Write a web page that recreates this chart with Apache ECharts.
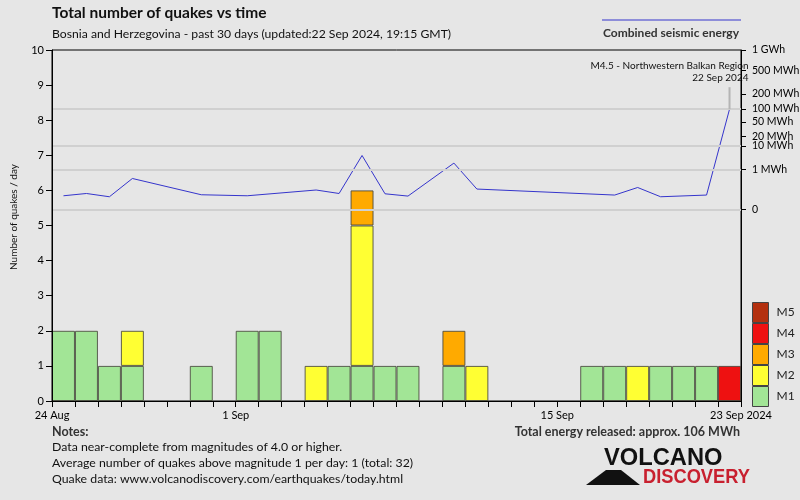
<!DOCTYPE html>
<html>
<head>
<meta charset="utf-8">
<script src="https://cdn.jsdelivr.net/npm/echarts@6/dist/echarts.min.js"></script>
<style>
html,body{margin:0;padding:0;background:#e6e6e6;}
#chart{width:800px;height:500px;}
</style>
</head>
<body>
<div id="chart"></div>
<script>
// ---- data ----
const days = ['24 Aug','25 Aug','26 Aug','27 Aug','28 Aug','29 Aug','30 Aug','31 Aug',
  '1 Sep','2 Sep','3 Sep','4 Sep','5 Sep','6 Sep','7 Sep','8 Sep','9 Sep','10 Sep','11 Sep',
  '12 Sep','13 Sep','14 Sep','15 Sep','16 Sep','17 Sep','18 Sep','19 Sep','20 Sep','21 Sep','22 Sep'];
const m1 = [2,2,1,1,0,0,1,0,2,2,0,0,1,1,1,1,0,1,0,0,0,0,0,1,1,0,1,1,1,0];
const m2 = [0,0,0,1,0,0,0,0,0,0,0,1,0,4,0,0,0,0,1,0,0,0,0,0,0,1,0,0,0,0];
const m3 = [0,0,0,0,0,0,0,0,0,0,0,0,0,1,0,0,0,1,0,0,0,0,0,0,0,0,0,0,0,0];
const m4 = [0,0,0,0,0,0,0,0,0,0,0,0,0,0,0,0,0,0,0,0,0,0,0,0,0,0,0,0,0,1];
const m5 = [0,0,0,0,0,0,0,0,0,0,0,0,0,0,0,0,0,0,0,0,0,0,0,0,0,0,0,0,0,0];
const magNames = ['M1','M2','M3','M4','M5'];
const magColors = ['#a2e596','#ffff33','#ffaa00','#ee1111','#b3300f'];

const energyDays = ['24 Aug','25 Aug','26 Aug','27 Aug','30 Aug','1 Sep','4 Sep','5 Sep','6 Sep',
  '7 Sep','8 Sep','10 Sep','11 Sep','17 Sep','18 Sep','19 Sep','21 Sep','22 Sep'];
const energyMWh = [0.0044,0.0096,0.0030,0.27,0.0063,0.0044,0.026,0.0096,4.4,
  0.0087,0.0039,2.05,0.033,0.0057,0.048,0.0030,0.0057,98];

const xTickDays = [0, 8, 22, 30];
const xTickLabels = ['24 Aug','1 Sep','15 Sep','23 Sep 2024'];
const energyTicks = [0,1,10,20,50,100,200,500,1000];
const energyTickLabels = ['0','1 MWh','10 MWh','20 MWh','50 MWh','100 MWh','200 MWh','500 MWh','1 GWh'];
const energyGrid = [0,1,10,100];
const biggestQuake = {day:'22 Sep', text:'M4.5 - Northwestern Balkan Region\n22 Sep 2024'};

// energy axis scale (fifth root)
const eScale = e => Math.pow(e, 0.2);
const eTickVals = energyTicks.map(eScale);
// day boundaries (one tick per day edge)
const dayEdges = days.map((d, i) => i).concat([days.length]);

const FONT = 'Lato';
const chart = echarts.init(document.getElementById('chart'), null, {renderer:'canvas'});

const magSeries = [m1,m2,m3,m4,m5].map((arr, k) => ({
  name: magNames[k],
  type: 'bar',
  stack: 'q',
  xAxisIndex: 0, yAxisIndex: 0,
  barCategoryGap: '0%',
  z: 3,
  itemStyle: {color: magColors[k], borderColor: 'rgba(70,70,60,0.85)', borderWidth: 1},
  emphasis: {disabled: true},
  data: arr.map(v => v > 0 ? v : '-')
}));

const energyData = energyDays.map((d, i) => [days.indexOf(d) + 0.5, eScale(energyMWh[i])]);
const bqIdx = energyDays.indexOf(biggestQuake.day);

const option = {
  backgroundColor: '#e6e6e6',
  animation: false,
  textStyle: {fontFamily: FONT},
  grid: {left: 52, right: 59, top: 50, bottom: 99, containLabel: false, outerBoundsMode: 'none',
    show: true, borderColor: '#000', borderWidth: 1, backgroundColor: 'transparent'},
  legend: {
    orient: 'vertical', left: 752, top: 302, padding: 0,
    itemWidth: 16, itemHeight: 20, itemGap: 0,
    icon: 'rect', align: 'left',
    selectedMode: false,
    data: ['M5','M4','M3','M2','M1'],
    textStyle: {fontFamily: FONT, fontSize: 12, color: '#222', padding: [0,0,0,3]},
    itemStyle: {borderColor: '#444', borderWidth: 1}
  },
  xAxis: [{
    type: 'category', data: days, position: 'bottom', boundaryGap: true,
    axisLine: {show: false},
    axisTick: {show: false},
    splitLine: {show: false},
    axisLabel: {show: false}
  }, {
    type: 'value', min: 0, max: 30, interval: 1, position: 'bottom', offset: 0, z: 10,
    axisLine: {show: true, onZero: false, lineStyle: {color: '#000'}},
    axisTick: {show: true, inside: false, length: 6, customValues: dayEdges, lineStyle: {color: '#000', width: 1}},
    splitLine: {show: false},
    axisLabel: {
      customValues: xTickDays,
      formatter: v => xTickLabels[xTickDays.indexOf(v)],
      color: '#000', fontFamily: FONT, fontSize: 11, margin: 9
    }
  }],
  yAxis: [{
    type: 'value', min: 0, max: 10, interval: 1, z: 10,
    axisLine: {show: true, lineStyle: {color: '#000'}},
    axisTick: {show: true, inside: false, length: 6, lineStyle: {color: '#000'}},
    splitLine: {show: false},
    axisLabel: {color: '#000', fontFamily: FONT, fontSize: 11, margin: 8}
  }, {
    type: 'value', position: 'right', min: -4.793, max: 3.982, z: 10,
    axisLine: {show: true, lineStyle: {color: '#000'}},
    axisTick: {show: true, inside: false, length: 5, customValues: eTickVals, lineStyle: {color: '#000'}},
    splitLine: {show: false},
    axisLabel: {
      customValues: eTickVals,
      formatter: v => { const i = eTickVals.findIndex(t => Math.abs(t - v) < 1e-6); return i >= 0 ? energyTickLabels[i] : ''; },
      color: '#000', fontFamily: FONT, fontSize: 10.5, margin: 11
    }
  }],
  series: [...magSeries, {
    name: 'Combined seismic energy',
    type: 'line',
    xAxisIndex: 1, yAxisIndex: 1,
    z: 1,
    symbol: 'none',
    lineStyle: {color: '#3535cc', width: 1},
    emphasis: {disabled: true},
    data: energyData,
    markLine: {
      silent: true, symbol: 'none',
      label: {show: false},
      lineStyle: {color: '#d0d0d0', width: 2, type: 'solid'},
      data: energyGrid.map(e => ({yAxis: eScale(e)}))
    },
    markPoint: {
      silent: true,
      data: [{
        coord: energyData[bqIdx],
        symbol: 'rect', symbolSize: [2, 22], symbolOffset: [0, -11],
        itemStyle: {color: '#b4b4b4'},
        label: {
          show: true, position: 'top', distance: 3, align: 'right', offset: [19, 0],
          formatter: biggestQuake.text,
          color: '#111', fontFamily: FONT, fontSize: 10, lineHeight: 12
        }
      }]
    }
  }],
  graphic: [
    {type: 'text', x: 52, y: 13, style: {text: 'Total number of quakes vs time', font: 'bold 15.5px ' + FONT, fill: '#111', verticalAlign: 'middle'}},
    {type: 'text', x: 52, y: 34, style: {text: 'Bosnia and Herzegovina - past 30 days (updated:22 Sep 2024, 19:15 GMT)', font: '12.2px ' + FONT, fill: '#111', verticalAlign: 'middle'}},
    {type: 'line', shape: {x1: 602, y1: 20, x2: 741, y2: 20}, style: {stroke: '#3535cc', lineWidth: 1}},
    {type: 'text', x: 671, y: 33, style: {text: 'Combined seismic energy', font: 'bold 12px ' + FONT, fill: '#333', align: 'center', verticalAlign: 'middle'}},
    {type: 'text', x: 14, y: 217, rotation: Math.PI / 2, style: {text: 'Number of quakes / day', font: '10px ' + FONT, fill: '#111', align: 'center', verticalAlign: 'middle'}},
    {type: 'text', x: 52, y: 432, style: {text: 'Notes:', font: 'bold 12.5px ' + FONT, fill: '#333', verticalAlign: 'middle'}},
    {type: 'text', x: 52, y: 447, style: {text: 'Data near-complete from magnitudes of 4.0 or higher.', font: '12.3px ' + FONT, fill: '#111', verticalAlign: 'middle'}},
    {type: 'text', x: 52, y: 463, style: {text: 'Average number of quakes above magnitude 1 per day: 1 (total: 32)', font: '12.3px ' + FONT, fill: '#111', verticalAlign: 'middle'}},
    {type: 'text', x: 52, y: 479, style: {text: 'Quake data: www.volcanodiscovery.com/earthquakes/today.html', font: '12.3px ' + FONT, fill: '#111', verticalAlign: 'middle'}},
    {type: 'text', x: 740, y: 432, style: {text: 'Total energy released: approx. 106 MWh', font: 'bold 12.5px ' + FONT, fill: '#333', align: 'right', verticalAlign: 'middle'}},
    {type: 'polygon', shape: {points: [[586,485],[640,485],[621,470],[606,470]]}, style: {fill: '#111'}},
    {type: 'text', x: 604, y: 459, scaleX: 1.03, style: {text: 'VOLCANO', font: 'bold 23px "Liberation Sans"', fill: '#111', verticalAlign: 'middle'}},
    {type: 'text', x: 643, y: 477, scaleX: 0.87, style: {text: 'DISCOVERY', font: 'bold 21px "Liberation Sans"', fill: '#c8202f', verticalAlign: 'middle'}}
  ]
};
chart.setOption(option);
</script>
</body>
</html>
